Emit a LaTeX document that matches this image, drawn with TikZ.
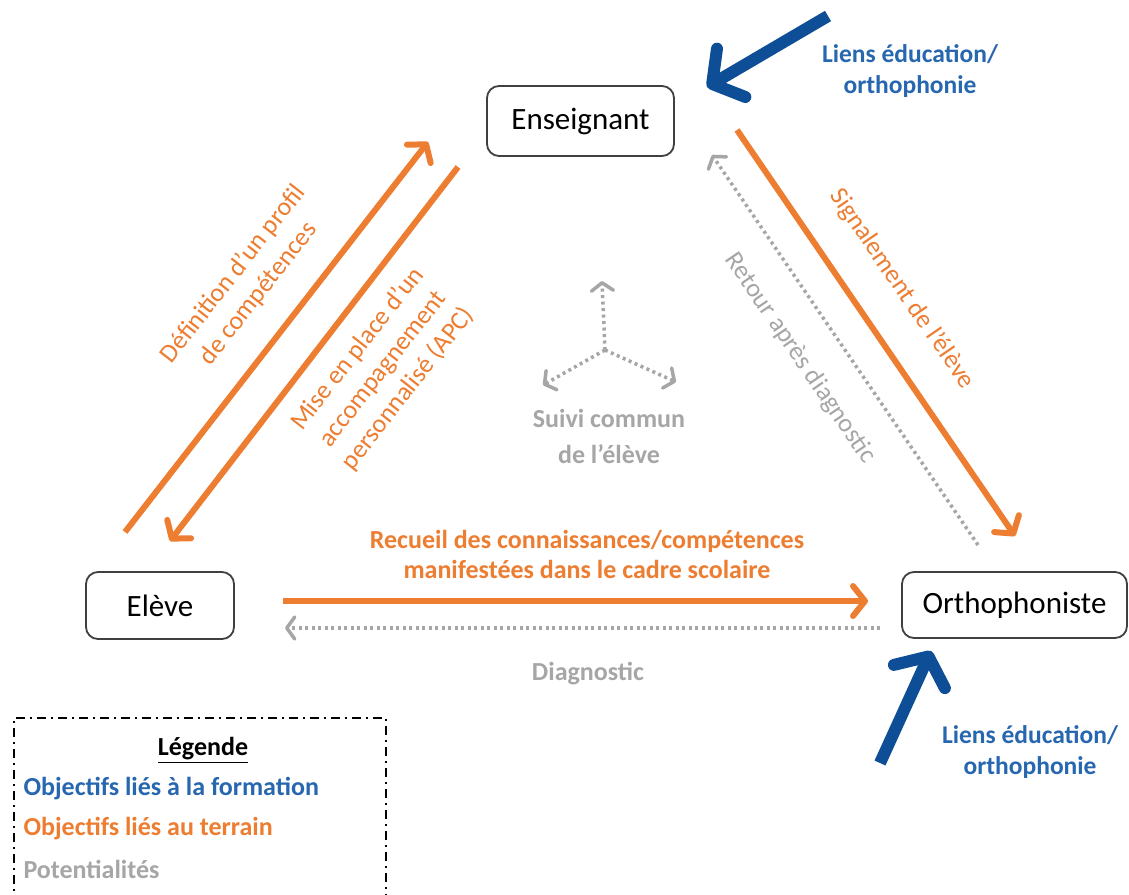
\documentclass[tikz,border=0pt]{standalone}
\usepackage{fontspec}
\setmainfont{Carlito}
\usetikzlibrary{arrows.meta}
\definecolor{orng}{HTML}{ED7D31}
\definecolor{gry}{HTML}{A6A6A6}
\definecolor{darkblue}{HTML}{0D4E96}
\definecolor{txtblue}{HTML}{2767B0}
\definecolor{boxline}{HTML}{404040}
\begin{document}
\begin{tikzpicture}[x=1pt,y=-1pt,
  actor/.style={draw=boxline,line width=1.8pt,rounded corners=12pt,fill=white,inner sep=0pt,font=\fontsize{31}{37}\selectfont},
  orarrow/.style={draw=orng,line width=6pt,-{Straight Barb[length=12pt,width=30pt,line cap=round,line join=round]}},
  grarrow/.style={draw=gry,line width=3.5pt,dash pattern=on 3pt off 3.5pt,-{Straight Barb[length=8pt,width=22pt,line cap=round,line join=round]}},
  blarrow/.style={draw=darkblue,line width=12pt,-{Straight Barb[length=22pt,width=56pt,line cap=round,line join=round]}},
  ortext/.style={text=orng,font=\fontsize{26}{32}\selectfont,align=center},
  orbold/.style={text=orng,font=\fontsize{26}{30}\selectfont\bfseries,align=center},
  grtext/.style={text=gry,font=\fontsize{26}{30}\selectfont,align=center},
  grbold/.style={text=gry,font=\fontsize{26}{36}\selectfont\bfseries,align=center},
  blbold/.style={text=txtblue,font=\fontsize{25.5}{31}\selectfont\bfseries,align=center},
  legtext/.style={anchor=west,font=\fontsize{26}{30}\selectfont\bfseries}
]
\useasboundingbox (0,0) rectangle (1129,894);
\fill[white] (0,0) rectangle (1129,894);

% actors
\node[actor,minimum width=187pt,minimum height=70pt] (ens) at (580.5,121) {Enseignant};
\node[actor,minimum width=148pt,minimum height=67pt] (elv) at (160,605.5) {Elève};
\node[actor,minimum width=225pt,minimum height=66pt] (orth) at (1014.5,605) {Orthophoniste};

% coordinates of arrow ends
\coordinate (d1) at (125,532); \coordinate (d2) at (428,142);
\coordinate (m1) at (458,167); \coordinate (m2) at (170,541);
\coordinate (s1) at (737,130); \coordinate (s2) at (1015,536);
\coordinate (r1) at (978,545); \coordinate (r2) at (712,155);
\coordinate (c1) at (283,601); \coordinate (c2) at (868,601);
\coordinate (g1) at (880,628); \coordinate (g2) at (285,628);
\coordinate (o) at (605,350);
\coordinate (o1) at (602,281); \coordinate (o2) at (543,385); \coordinate (o3) at (676,382);
\coordinate (b1) at (828,16); \coordinate (b2) at (707,87);
\coordinate (b3) at (880,763); \coordinate (b4) at (931,651);

% orange arrows
\draw[orarrow] (d1) -- (d2);
\draw[orarrow] (m1) -- (m2);
\draw[orarrow] (s1) -- (s2);
\draw[orarrow] (c1) -- (c2);

% gray dotted arrows
\draw[grarrow] (r1) -- (r2);
\draw[grarrow] (g1) -- (g2);
\draw[grarrow] (o) -- (o1);
\draw[grarrow] (o) -- (o2);
\draw[grarrow] (o) -- (o3);

% blue arrows
\draw[blarrow] (b1) -- (b2);
\draw[blarrow] (b3) -- (b4);

% labels
\node[ortext,rotate=52] (ldef) at (246,284) {Définition d’un profil\\de compétences};
\node[ortext,rotate=52] (lmise) at (383,369) {Mise en place d’un\\accompagnement\\personnalisé (APC)};
\node[ortext,rotate=-55.5] (lsig) at (902,289) {Signalement de l’élève};
\node[grtext,rotate=-55.7] (lret) at (800,358) {Retour après diagnostic};
\node[orbold] (lrec) at (587,554) {Recueil des connaissances/compétences\\manifestées dans le cadre scolaire};
\node[grbold] (ldia) at (588,674) {Diagnostic};
\node[grbold] (lsuivi) at (609,436) {Suivi commun\\de l’élève};
\node[blbold] (lien1) at (910,71) {Liens éducation/\\orthophonie};
\node[blbold] (lien2) at (1030,752) {Liens éducation/\\orthophonie};

% legend
\draw[black,line width=1.8pt,dash pattern=on 9pt off 5pt on 2pt off 5pt] (14,905) -- (14,718) -- (386,718) -- (386,905);
\node[font=\fontsize{26}{30}\selectfont\bfseries] (legt) at (203,750) {\underline{Légende}};
\node[legtext,text=txtblue] (leg1) at (20,789) {Objectifs liés à la formation};
\node[legtext,text=orng] (leg2) at (20,829) {Objectifs liés au terrain};
\node[legtext,text=gry] (leg3) at (20,869) {Potentialités};
\end{tikzpicture}
\end{document}
